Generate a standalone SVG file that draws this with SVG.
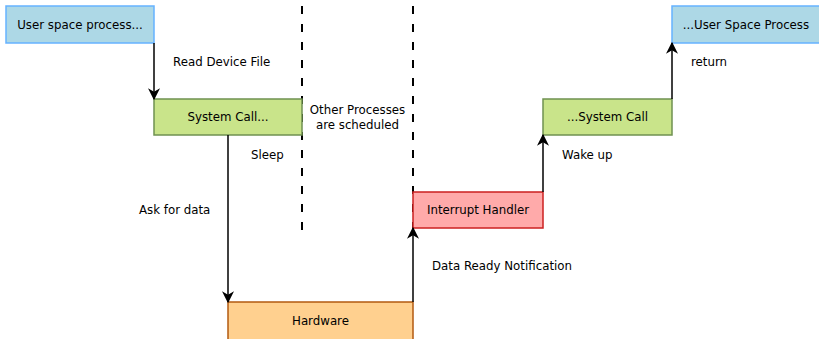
<svg xmlns="http://www.w3.org/2000/svg" width="819" height="339" viewBox="0 0 819 339">
<defs>
<marker id="arr" markerWidth="12" markerHeight="12" refX="9" refY="5" orient="auto" markerUnits="userSpaceOnUse" viewBox="0 0 10 10">
<path d="M0,0 L10,5 L0,10 L3,5 Z" fill="#000"/>
</marker>
<style>
text{font-family:"DejaVu Sans","Liberation Sans",sans-serif;font-size:11.8px;fill:#000}
.c{text-anchor:middle}
.blue{fill:#add8e6;stroke:#66b2ff;stroke-width:1.5}
.green{fill:#c9e48a;stroke:#6f9150;stroke-width:1.5}
.red{fill:#ffaaaa;stroke:#cc2020;stroke-width:1.5}
.orange{fill:#ffd08f;stroke:#b25a10;stroke-width:1.5}
.edge{fill:none;stroke:#000;stroke-width:1.5;marker-end:url(#arr)}
.dash{fill:none;stroke:#000;stroke-width:2;stroke-dasharray:8 10}
</style>
</defs>
<g id="dividers">
<line class="dash" x1="302" y1="6" x2="302" y2="238"/>
<line class="dash" x1="413" y1="6" x2="413" y2="228"/>
</g>
<g id="user-process-start">
<rect class="blue" x="6" y="6" width="148" height="37"/>
<text class="c" x="80" y="29">User space process...</text>
</g>
<g id="syscall-start">
<rect class="green" x="154" y="99" width="148" height="36"/>
<text class="c" x="228" y="121">System Call...</text>
</g>
<g id="interrupt-handler">
<rect class="red" x="413" y="192" width="130" height="36"/>
<text class="c" x="478" y="214">Interrupt Handler</text>
</g>
<g id="syscall-end">
<rect class="green" x="543" y="99" width="129" height="36"/>
<text class="c" x="607.5" y="121">...System Call</text>
</g>
<g id="user-process-end">
<rect class="blue" x="672" y="6" width="148" height="37"/>
<text class="c" x="746" y="29">...User Space Process</text>
</g>
<g id="hardware">
<rect class="orange" x="228" y="302" width="185" height="40"/>
<text class="c" x="320.5" y="325">Hardware</text>
</g>
<g id="connectors">
<path class="edge" d="M154,43 L154,99"/>
<path class="edge" d="M228,135 L228,302"/>
<path class="edge" d="M413,302 L413,228"/>
<path class="edge" d="M543,192 L543,135"/>
<path class="edge" d="M672,99 L672,43"/>
</g>
<g id="labels">
<text x="173" y="66">Read Device File</text>
<text x="251" y="159">Sleep</text>
<text class="c" x="357.5" y="114">Other Processes</text>
<text class="c" x="357.5" y="129">are scheduled</text>
<text x="139" y="214">Ask for data</text>
<text x="432" y="270">Data Ready Notification</text>
<text x="562" y="159">Wake up</text>
<text x="691" y="66">return</text>
</g>
</svg>
